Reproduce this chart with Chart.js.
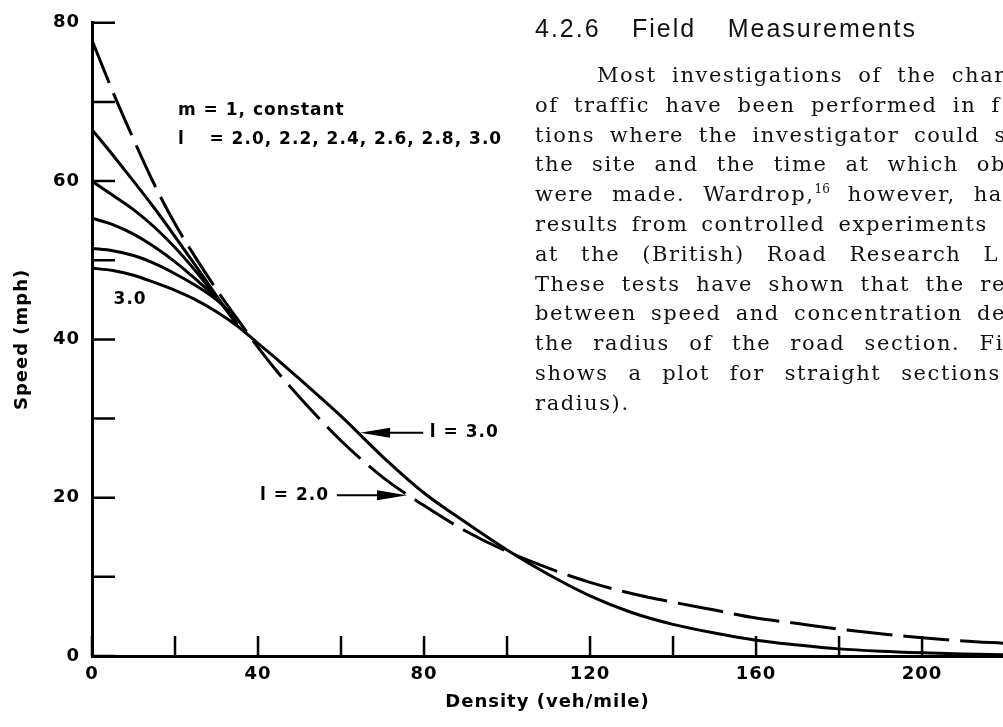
<!DOCTYPE html>
<html>
<head>
<meta charset="utf-8">
<script src="https://cdn.jsdelivr.net/npm/chart.js@4.4.1/dist/chart.umd.min.js"></script>
<style>
body { margin: 0; background: #fff; width: 1003px; height: 727px; overflow: hidden; position: relative; }
#speedChart { position: absolute; left: 0; top: 0; }
.head { position: absolute; left: 535px; top: 16px; font: 25px "Liberation Sans", sans-serif; line-height: 24px; letter-spacing: 2px; white-space: nowrap; color: #111; }
.para { position: absolute; left: 0; top: 61px; font: 21px "DejaVu Serif", serif; line-height: 29.8px; letter-spacing: 1.6px; color: #111; }
.para div { position: relative; left: 535px; white-space: nowrap; display: table; }
.para sup { font-size: 12px; line-height: 0; letter-spacing: 0; }
</style>
</head>
<body>
<canvas id="speedChart" width="1003" height="727"></canvas>

<div class="head" data-right="917">4.2.6 Field Measurements</div>
<div class="para">
	<div style="left:597px" data-right="1006">Most investigations of the char</div>
	<div data-right="1001">of traffic have been performed in f</div>
	<div data-right="1007">tions where the investigator could s</div>
	<div data-right="1006">the site and the time at which ob</div>
	<div data-right="1003">were made. Wardrop,<sup>16</sup> however, ha</div>
	<div data-right="988">results from controlled experiments</div>
	<div data-right="999">at the (British) Road Research L</div>
	<div data-right="1006">These tests have shown that the re</div>
	<div data-right="1006">between speed and concentration de</div>
	<div data-right="1004">the radius of the road section. Fi</div>
	<div data-right="1001">shows a plot for straight sections</div>
	<div>radius).</div>
</div>

<script>
// density values (veh/mile) for the long curves and for the short family curves
const densityLong = [0, 5, 10, 15, 20, 25, 30, 35, 40, 45, 50, 60, 70, 80, 90, 100, 110, 120, 130, 140, 150, 160, 170, 180, 190, 200, 210, 220];
const densityShort = [0, 5, 10, 15, 20, 25, 30, 35];

// speeds (mph)
const speedL20 = [77.8, 71.3, 65.3, 59.6, 54.6, 50.3, 46.3, 42.6, 39.0, 35.7, 32.7, 27.2, 22.6, 19.0, 15.8, 13.2, 11.1, 9.3, 7.9, 6.8, 5.8, 4.8, 4.1, 3.4, 2.8, 2.3, 1.9, 1.6];
const speedL30 = [49.0, 48.7, 48.1, 47.2, 46.2, 45.0, 43.5, 41.7, 39.5, 37.3, 35.0, 30.3, 25.2, 20.6, 16.9, 13.4, 10.3, 7.6, 5.5, 4.0, 2.9, 2.0, 1.4, 0.9, 0.6, 0.4, 0.25, 0.15];
const speedL22 = [66.5, 63.3, 60.0, 56.6, 53.0, 49.3, 45.5, 41.8];
const speedL24 = [60.0, 58.2, 56.4, 54.2, 51.6, 48.6, 45.3, 41.9];
const speedL26 = [55.3, 54.5, 53.3, 51.7, 49.8, 47.6, 45.2, 42.2];
const speedL28 = [51.5, 51.2, 50.6, 49.6, 48.3, 46.8, 45.0, 42.6];

// axis ticks and labels
const xTicks = [0, 20, 40, 60, 80, 100, 120, 140, 160, 180, 200];
const xLabels = ['0', '', '40', '', '80', '', '120', '', '160', '', '200'];
const yTicks = [0, 10, 20, 30, 40, 50, 60, 70, 80];
const yLabels = ['0', '', '20', '', '40', '', '60', '', '80'];

function toPoints(xs, ys) {
	return xs.map((x, i) => ({x: x, y: ys[i]}));
}

function curve(xs, ys, dashed) {
	return {
		data: toPoints(xs, ys),
		showLine: true,
		borderColor: '#000',
		borderWidth: 3,
		borderDash: dashed ? [46, 11] : [],
		pointRadius: 0,
		cubicInterpolationMode: 'monotone'
	};
}

// text notes and arrows, placed in data units
const notes = [
	{text: 'm = 1, constant', x: 20.7, y: 68.9},
	{text: 'l', x: 20.7, y: 65.2},
	{text: '= 2.0, 2.2, 2.4, 2.6, 2.8, 3.0', x: 28.3, y: 65.2},
	{text: '3.0', x: 5.2, y: 45.0},
	{text: 'l = 3.0', x: 81.4, y: 28.2},
	{text: 'l = 2.0', x: 40.5, y: 20.3}
];
const arrows = [
	{from: 79.8, to: 64.6, y: 28.2},
	{from: 59.0, to: 75.9, y: 20.3}
];

const overlay = {
	id: 'overlay',
	beforeUpdate(chart) { chart.ctx.letterSpacing = '1px'; },
	beforeDraw(chart) { chart.ctx.letterSpacing = '1px'; },
	afterDraw(chart) {
		const ctx = chart.ctx, area = chart.chartArea;
		const xs = chart.scales.x, ys = chart.scales.y;
		ctx.save();
		ctx.strokeStyle = '#000';
		ctx.fillStyle = '#000';
		ctx.lineWidth = 2.5;

		// inward tick marks
		ctx.beginPath();
		yTicks.forEach(v => {
			const p = ys.getPixelForValue(v);
			ctx.moveTo(area.left, p);
			ctx.lineTo(area.left + 23, p);
		});
		xTicks.forEach(v => {
			const p = xs.getPixelForValue(v);
			ctx.moveTo(p, area.bottom);
			ctx.lineTo(p, area.bottom - 20);
		});
		ctx.stroke();

		// arrows
		ctx.lineWidth = 2;
		arrows.forEach(a => {
			const x0 = xs.getPixelForValue(a.from), x1 = xs.getPixelForValue(a.to);
			const y = ys.getPixelForValue(a.y);
			const dir = x1 > x0 ? 1 : -1;
			ctx.beginPath();
			ctx.moveTo(x0, y);
			ctx.lineTo(x1 - dir * 20, y);
			ctx.stroke();
			ctx.beginPath();
			ctx.moveTo(x1, y);
			ctx.lineTo(x1 - dir * 30, y - 5);
			ctx.lineTo(x1 - dir * 30, y + 5);
			ctx.closePath();
			ctx.fill();
		});

		// notes
		ctx.font = 'bold 17px "DejaVu Sans", sans-serif';
		ctx.letterSpacing = '1px';
		ctx.textAlign = 'left';
		ctx.textBaseline = 'middle';
		notes.forEach(n => {
			ctx.fillText(n.text, xs.getPixelForValue(n.x), ys.getPixelForValue(n.y));
		});
		ctx.restore();
	}
};

Chart.defaults.font.family = '"DejaVu Sans", sans-serif';
Chart.defaults.color = '#000';

new Chart(document.getElementById('speedChart'), {
	type: 'scatter',
	data: {
		datasets: [
			curve(densityLong, speedL20, true),
			curve(densityShort, speedL22, false),
			curve(densityShort, speedL24, false),
			curve(densityShort, speedL26, false),
			curve(densityShort, speedL28, false),
			curve(densityLong, speedL30, false)
		]
	},
	options: {
		responsive: false,
		animation: false,
		layout: {padding: {top: 21, right: 0, left: 0, bottom: 0}},
		plugins: {legend: {display: false}, tooltip: {enabled: false}},
		scales: {
			x: {
				type: 'linear',
				min: 0,
				max: 219.5,
				afterBuildTicks: s => { s.ticks = xTicks.map(v => ({value: v})); },
				afterFit: s => { s.height = 71; },
				ticks: {
					callback: v => xLabels[xTicks.indexOf(v)] || '',
					font: {size: 18, weight: 'bold'},
					padding: 8,
					maxRotation: 0,
					autoSkip: false
				},
				grid: {display: true, drawOnChartArea: false, drawTicks: false},
				border: {display: true, color: '#000', width: 3},
				title: {display: true, text: 'Density (veh/mile)', font: {size: 18, weight: 'bold'}, padding: {top: 0, bottom: 14}}
			},
			y: {
				min: 0,
				max: 80,
				afterBuildTicks: s => { s.ticks = yTicks.map(v => ({value: v})); },
				afterFit: s => { s.width = 92; },
				ticks: {
					callback: v => yLabels[yTicks.indexOf(v)] || '',
					font: {size: 18, weight: 'bold'},
					padding: 12,
					autoSkip: false
				},
				grid: {display: true, drawOnChartArea: false, drawTicks: false},
				border: {display: true, color: '#000', width: 3},
				title: {display: true, text: 'Speed (mph)', font: {size: 18, weight: 'bold'}, padding: {top: 12, bottom: 0}}
			}
		}
	},
	plugins: [overlay]
});

// spread the words of each text line so it ends where the printed line ends
document.querySelectorAll('[data-right]').forEach(el => {
	const box = el.getBoundingClientRect();
	const spaces = (el.textContent.match(/ /g) || []).length;
	if (spaces) el.style.wordSpacing = ((+el.dataset.right - box.left - box.width) / spaces) + 'px';
});
</script>
</body>
</html>
